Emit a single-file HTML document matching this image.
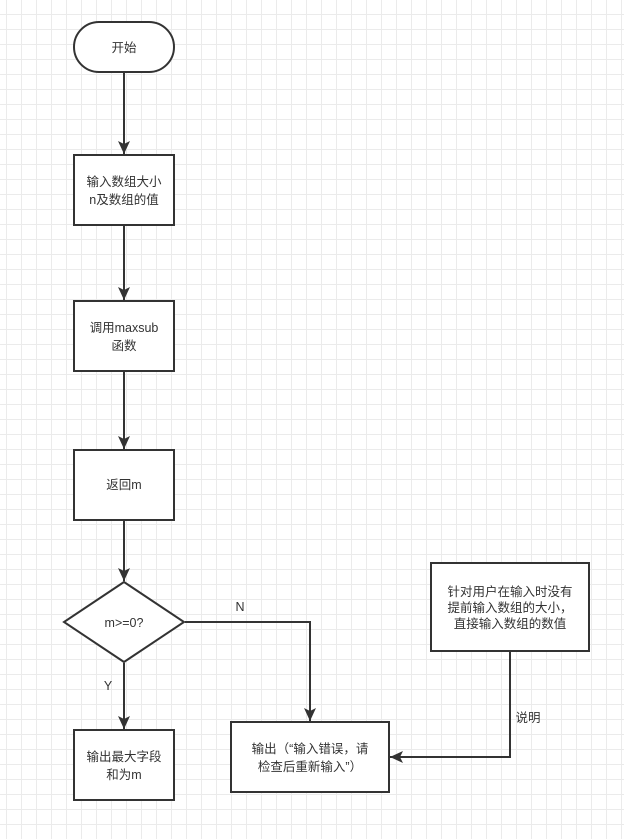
<!DOCTYPE html>
<html><head><meta charset="utf-8"><style>
html,body{margin:0;padding:0;}
body{width:624px;height:839px;overflow:hidden;background:#fff;
background-image:linear-gradient(to right,#ebebeb 1px,transparent 1px),linear-gradient(to bottom,#ebebeb 1px,transparent 1px);
background-size:15px 15px;background-position:6px 14px;}
svg{position:absolute;left:0;top:0;}
text{font-family:"Liberation Sans","Noto Sans CJK SC",sans-serif;font-size:12.5px;fill:#333;}
</style></head><body>
<svg width="624" height="839" viewBox="0 0 624 839">
<defs><marker id="a" markerWidth="14" markerHeight="14" refX="13" refY="7" orient="auto" markerUnits="userSpaceOnUse"><path d="M0,1 L13,7 L0,13 L3,7 Z" fill="#333"/></marker></defs>
<g fill="#fff" stroke="#333" stroke-width="2">
<rect x="74" y="22" width="100" height="50" rx="25"/>
<rect x="74" y="155" width="100" height="70"/>
<rect x="74" y="301" width="100" height="70"/>
<rect x="74" y="450" width="100" height="70"/>
<polygon points="124,582 184,622 124,662 64,622"/>
<rect x="74" y="730" width="100" height="70"/>
<rect x="231" y="722" width="158" height="70"/>
<rect x="431" y="563" width="158" height="88"/>
</g>
<g fill="none" stroke="#333" stroke-width="2">
<line x1="124" y1="73" x2="124" y2="154" marker-end="url(#a)"/>
<line x1="124" y1="226" x2="124" y2="300" marker-end="url(#a)"/>
<line x1="124" y1="372" x2="124" y2="449" marker-end="url(#a)"/>
<line x1="124" y1="521" x2="124" y2="581" marker-end="url(#a)"/>
<line x1="124" y1="663" x2="124" y2="729" marker-end="url(#a)"/>
<polyline points="185,622 310,622 310,721" marker-end="url(#a)"/>
<polyline points="510,652 510,757 390,757" marker-end="url(#a)"/>
</g>
<g text-anchor="middle">
<text x="124" y="52">开始</text>
<text x="124" y="186">输入数组大小</text><text x="124" y="204">n及数组的值</text>
<text x="124" y="332">调用maxsub</text><text x="124" y="350">函数</text>
<text x="124" y="489">返回m</text>
<text x="124" y="627">m&gt;=0?</text>
<text x="124" y="761">输出最大字段</text><text x="124" y="779">和为m</text>
<text x="310" y="753">输出（“输入错误，请</text><text x="310" y="771">检查后重新输入”）</text>
<text x="510" y="596">针对用户在输入时没有</text><text x="510" y="612">提前输入数组的大小，</text><text x="510" y="628">直接输入数组的数值</text>
<text x="108" y="690">Y</text>
<text x="240" y="611">N</text>
<text x="528" y="722">说明</text>
</g>
</svg>
</body></html>
